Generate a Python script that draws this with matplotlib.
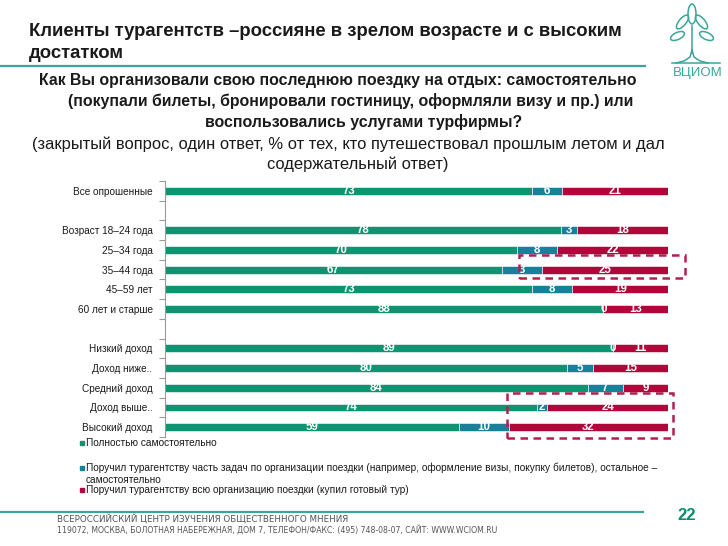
import matplotlib
matplotlib.use("Agg")
import matplotlib.pyplot as plt
import numpy as np
from matplotlib.patches import Rectangle, Ellipse
from matplotlib.lines import Line2D

W, H = 728, 546

categories = ["Все опрошенные", "", "Возраст 18–24 года", "25–34 года", "35–44 года",
              "45–59 лет", "60 лет и старше", "", "Низкий доход", "Доход ниже..",
              "Средний доход", "Доход выше..", "Высокий доход"]
self_org = [73, None, 78, 70, 67, 73, 88, None, 89, 80, 84, 74, 59]
partial = [6, None, 3, 8, 8, 8, 0, None, 0, 5, 7, 2, 10]
partial_labels = ["6", "", "3", "8", "3", "8", "0", "", "0", "5", "7", "2", "10"]
full_tour = [21, None, 18, 22, 25, 19, 13, None, 11, 15, 9, 24, 32]

series_names = ["Полностью самостоятельно",
                "Поручил турагентству часть задач по организации поездки (например, оформление визы, покупку билетов), остальное –",
                "Поручил турагентству всю организацию поездки (купил готовый тур)"]
series_name_cont = "самостоятельно"
colors = ["#0E9470", "#17819A", "#B0063A"]

ARIAL = ["Liberation Sans", "DejaVu Sans"]
WIDE = ["DejaVu Sans", "Liberation Sans"]
TXT = "#1a1a1a"
teal = "#3AA59A"

fig = plt.figure(figsize=(W / 100, H / 100), dpi=100)
renderer = fig.canvas.get_renderer()


def fx(x):
    return x / W


def fy(y):
    return 1 - y / H


def fit(t, target_w):
    w = t.get_window_extent(renderer).width
    t.set_fontsize(t.get_fontsize() * target_w / w)
    return t.get_fontsize()


# Header title
t1 = fig.text(fx(29), fy(31), "Клиенты турагентств –россияне в зрелом возрасте и с высоким",
              family=ARIAL, weight="bold", fontsize=13, va="center", ha="left", color=TXT)
fs = fit(t1, 592)
fig.text(fx(29), fy(53), "достатком", family=ARIAL, weight="bold", fontsize=fs,
         va="center", ha="left", color=TXT)
fig.add_artist(Line2D([0, fx(645)], [fy(65.5), fy(65.5)], color=teal, lw=1.6))

# Question
q1 = fig.text(fx(39), fy(80), "Как Вы организовали свою последнюю поездку на отдых: самостоятельно",
              family=ARIAL, weight="bold", fontsize=11, ha="left", va="center", color=TXT)
qs = fit(q1, 600)
fig.text(fx(68), fy(101), "(покупали билеты, бронировали гостиницу, оформляли визу и пр.) или",
         family=ARIAL, weight="bold", fontsize=qs, ha="left", va="center", color=TXT)
fig.text(fx(364), fy(122), "воспользовались услугами турфирмы?",
         family=ARIAL, weight="bold", fontsize=qs, ha="center", va="center", color=TXT)
s1 = fig.text(fx(32), fy(144), "(закрытый вопрос, один ответ, % от тех, кто путешествовал прошлым летом и дал",
              family=ARIAL, fontsize=11, ha="left", va="center", color=TXT)
ss = fit(s1, 630)
fig.text(fx(358), fy(164), "содержательный ответ)",
         family=ARIAL, fontsize=ss, ha="center", va="center", color=TXT)

# Logo
lax = fig.add_axes([fx(664), fy(82), 60 / W, 80 / H])
lax.set_xlim(664, 724)
lax.set_ylim(82, 2)
lax.axis("off")
for (ex, ey, w, h, ang) in [(692, 14, 8, 20, 0), (682.5, 22, 7, 17, 40), (701.5, 22, 7, 17, -40),
                            (677.5, 36, 7, 15, 65), (706.5, 36, 7, 15, -65)]:
    lax.add_patch(Ellipse((ex, ey), w, h, angle=ang, fill=False, edgecolor=teal, lw=1.1))
lax.plot([692, 692], [26, 53], color=teal, lw=1.1)
lax.plot([692, 690, 684, 676], [50, 57, 61, 63], color=teal, lw=1.1)
lax.plot([692, 694, 700, 708], [50, 57, 61, 63], color=teal, lw=1.1)
lax.plot([672, 720], [63, 63], color=teal, lw=1.1)
lax.text(698, 73, "ВЦИОМ", family=ARIAL, fontsize=9.5, color=teal, ha="center", va="center")

# Chart
ax = fig.add_axes([fx(165), fy(437), (668 - 165) / W, (437 - 181) / H])
n = len(categories)
ypos = np.arange(n)
for i in range(n):
    if self_org[i] is None:
        continue
    vals = [self_org[i], partial[i], full_tour[i]]
    labs = [str(self_org[i]), partial_labels[i], str(full_tour[i])]
    tot = sum(vals)
    left = 0
    for k, v in enumerate(vals):
        w = v / tot * 100
        ax.barh(ypos[i], w, left=left, height=0.4, color=colors[k], edgecolor="white", linewidth=0.4)
        ax.text(left + w / 2, ypos[i], labs[k], color="white", fontsize=8.3, family=ARIAL,
                ha="center", va="center", weight="bold")
        left += w

ax.set_xlim(0, 100)
ax.set_ylim(n - 0.5, -0.5)
ax.set_xticks([])
ax.set_yticks(np.arange(-0.5, n, 1))
ax.set_yticklabels([])
ax.tick_params(axis="y", which="major", length=4, color="#999999", width=0.8, direction="out")
tmp = fig.text(0, 0, categories[0], family=ARIAL, fontsize=7)
cs = fit(tmp, 79)
tmp.remove()
ax.set_yticks(ypos, minor=True)
ax.set_yticklabels(categories, minor=True, family=ARIAL, fontsize=cs, color=TXT)
ax.tick_params(axis="y", which="minor", length=0, pad=9)
for s in ["top", "right", "bottom"]:
    ax.spines[s].set_visible(False)
ax.spines["left"].set_color("#999999")
ax.spines["left"].set_linewidth(0.8)

# Dashed highlight boxes
dash_col = "#B3204E"
for (x0, y0, x1, y1) in [(519, 255, 685, 278), (507, 393, 673, 438)]:
    fig.add_artist(Rectangle((fx(x0), fy(y1)), (x1 - x0) / W, (y1 - y0) / H, fill=False,
                             edgecolor=dash_col, lw=1.8, ls=(0, (3, 2.2))))

# Legend
leg_y = [443, 468, 490]
l2 = fig.text(fx(86), fy(leg_y[1]), series_names[1], family=ARIAL, fontsize=7,
              ha="left", va="center", color=TXT)
ls = fit(l2, 571)
for k in range(3):
    fig.add_artist(Rectangle((fx(79.5), fy(leg_y[k] + 2.2)), 4.5 / W, 4.5 / H, color=colors[k]))
    if k != 1:
        fig.text(fx(86), fy(leg_y[k]), series_names[k], family=ARIAL, fontsize=ls,
                 ha="left", va="center", color=TXT)
fig.text(fx(86), fy(480), series_name_cont, family=ARIAL, fontsize=ls,
         ha="left", va="center", color=TXT)

# Footer
fig.add_artist(Line2D([0, fx(643)], [fy(512), fy(512)], color=teal, lw=1.6))
fig.text(fx(687), fy(516), "22", family=ARIAL, weight="bold", fontsize=12, color="#0E8A70",
         ha="center", va="center")
fig.text(fx(57), fy(519), "ВСЕРОССИЙСКИЙ ЦЕНТР ИЗУЧЕНИЯ ОБЩЕСТВЕННОГО МНЕНИЯ", family=WIDE,
         fontsize=6.3, color="#555555", ha="left", va="center")
fig.text(fx(57), fy(529.5), "119072, МОСКВА, БОЛОТНАЯ НАБЕРЕЖНАЯ, ДОМ 7, ТЕЛЕФОН/ФАКС: (495) 748-08-07, САЙТ: WWW.WCIOM.RU",
         family=WIDE, fontsize=5.6, color="#555555", ha="left", va="center")

fig.savefig("out.png", dpi=100)
